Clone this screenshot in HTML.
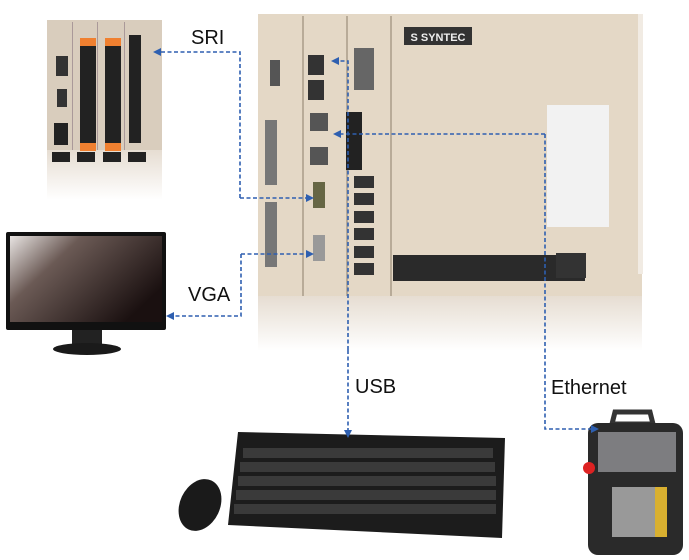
<!DOCTYPE html>
<html><head><meta charset="utf-8"><style>html,body{margin:0;padding:0;background:#fff}svg{display:block}</style></head><body>
<svg width="689" height="560" viewBox="0 0 689 560" xmlns="http://www.w3.org/2000/svg" font-family="Liberation Sans, sans-serif">
<defs>
<linearGradient id="scr" x1="0" y1="0" x2="1" y2="0.6"><stop offset="0" stop-color="#e8e4e2"/><stop offset="0.35" stop-color="#6b5a55"/><stop offset="1" stop-color="#1a1010"/></linearGradient>
<linearGradient id="refl" x1="0" y1="0" x2="0" y2="1"><stop offset="0" stop-color="#e6ddd2"/><stop offset="1" stop-color="#fff"/></linearGradient>
<marker id="ar" markerWidth="8" markerHeight="8" refX="6" refY="4" orient="auto" markerUnits="userSpaceOnUse"><path d="M0,0 L8,4 L0,8 z" fill="#2e5fb0"/></marker>
</defs>
<!-- IO module -->
<rect x="47" y="20" width="115" height="130" fill="#d9cdbd"/>
<rect x="47" y="150" width="115" height="50" fill="url(#refl)"/>
<rect x="72" y="22" width="1" height="128" fill="#a99"/><rect x="97" y="22" width="1" height="128" fill="#a99"/><rect x="124" y="22" width="1" height="128" fill="#a99"/>
<rect x="80" y="40" width="16" height="108" fill="#222"/><rect x="80" y="38" width="16" height="8" fill="#f08030"/><rect x="80" y="143" width="16" height="8" fill="#f08030"/>
<rect x="105" y="40" width="16" height="108" fill="#222"/><rect x="105" y="38" width="16" height="8" fill="#f08030"/><rect x="105" y="143" width="16" height="8" fill="#f08030"/>
<rect x="129" y="35" width="12" height="108" fill="#222"/>
<rect x="56" y="56" width="12" height="20" fill="#333"/><rect x="57" y="89" width="10" height="18" fill="#333"/><rect x="54" y="123" width="14" height="22" fill="#222"/>
<rect x="52" y="152" width="18" height="10" fill="#222"/><rect x="77" y="152" width="18" height="10" fill="#222"/><rect x="103" y="152" width="18" height="10" fill="#222"/><rect x="128" y="152" width="18" height="10" fill="#222"/>
<!-- Controller -->
<rect x="258" y="14" width="384" height="282" fill="#e4d8c6"/>
<rect x="258" y="296" width="384" height="55" fill="url(#refl)"/>
<rect x="302" y="16" width="2" height="280" fill="#b8ab98"/><rect x="346" y="16" width="2" height="280" fill="#b8ab98"/><rect x="390" y="16" width="2" height="280" fill="#b8ab98"/>
<rect x="638" y="14" width="5" height="260" fill="#f1ebe3"/>
<rect x="404" y="27" width="68" height="18" fill="#333"/><text x="438" y="41" font-size="11" font-weight="bold" fill="#eee" text-anchor="middle">S SYNTEC</text>
<rect x="547" y="105" width="62" height="122" fill="#f2f2f2"/>
<rect x="270" y="60" width="10" height="26" fill="#555"/>
<rect x="265" y="120" width="12" height="65" fill="#777"/><rect x="265" y="202" width="12" height="65" fill="#777"/>
<rect x="308" y="55" width="16" height="20" fill="#333"/><rect x="308" y="80" width="16" height="20" fill="#333"/>
<rect x="310" y="113" width="18" height="18" fill="#555"/><rect x="310" y="147" width="18" height="18" fill="#555"/>
<rect x="313" y="182" width="12" height="26" fill="#664"/><rect x="313" y="235" width="12" height="26" fill="#999"/>
<rect x="354" y="48" width="20" height="42" fill="#666"/>
<rect x="346" y="112" width="16" height="58" fill="#222"/>
<g fill="#333"><rect x="354" y="176" width="20" height="12"/><rect x="354" y="193" width="20" height="12"/><rect x="354" y="211" width="20" height="12"/><rect x="354" y="228" width="20" height="12"/><rect x="354" y="246" width="20" height="12"/><rect x="354" y="263" width="20" height="12"/></g>
<rect x="393" y="255" width="192" height="26" fill="#2a2a2a"/><rect x="556" y="253" width="30" height="25" fill="#333"/>
<!-- Monitor -->
<rect x="6" y="232" width="160" height="98" rx="2" fill="#111"/>
<rect x="10" y="236" width="152" height="86" fill="url(#scr)"/>
<rect x="72" y="330" width="30" height="15" fill="#222"/>
<ellipse cx="87" cy="349" rx="34" ry="6" fill="#1a1a1a"/>
<!-- Keyboard -->
<path d="M238,432 L505,438 L502,538 L228,525 Z" fill="#1c1c1c"/>
<g fill="#3a3a3a"><rect x="243" y="448" width="250" height="10"/><rect x="240" y="462" width="255" height="10"/><rect x="238" y="476" width="258" height="10"/><rect x="236" y="490" width="260" height="10"/><rect x="234" y="504" width="262" height="10"/></g>
<ellipse cx="200" cy="505" rx="20" ry="27" transform="rotate(25 200 505)" fill="#1a1a1a"/>
<!-- Pendant -->
<path d="M615,412 L650,412 L653,424 L612,424 Z" fill="none" stroke="#333" stroke-width="5"/>
<rect x="588" y="423" width="95" height="132" rx="10" fill="#2a2a2a"/>
<rect x="598" y="432" width="78" height="40" fill="#7d7d80"/>
<circle cx="589" cy="468" r="6" fill="#d22"/>
<g fill="#999"><rect x="612" y="487" width="55" height="50"/></g>
<g fill="#d9b030"><rect x="655" y="487" width="12" height="50"/></g>
<!-- Connectors -->
<g stroke="#2e5fb0" stroke-width="1.6" stroke-dasharray="4,2.5" fill="none">
<polyline points="240,198 240,52 155,52" marker-end="url(#ar)"/>
<polyline points="240,198 312,198" marker-end="url(#ar)"/>
<polyline points="241,254 312,254" marker-end="url(#ar)"/>
<polyline points="241,254 241,316 168,316" marker-end="url(#ar)"/>
<polyline points="348,350 348,61 333,61" marker-end="url(#ar)"/>
<polyline points="348,350 348,436" marker-end="url(#ar)"/>
<polyline points="545,134 335,134" marker-end="url(#ar)"/>
<polyline points="545,134 545,429 597,429" marker-end="url(#ar)"/>
</g>
<g font-size="20" fill="#111">
<text x="191" y="44">SRI</text>
<text x="188" y="301">VGA</text>
<text x="355" y="393">USB</text>
<text x="551" y="394">Ethernet</text>
</g>
</svg>
</body></html>
